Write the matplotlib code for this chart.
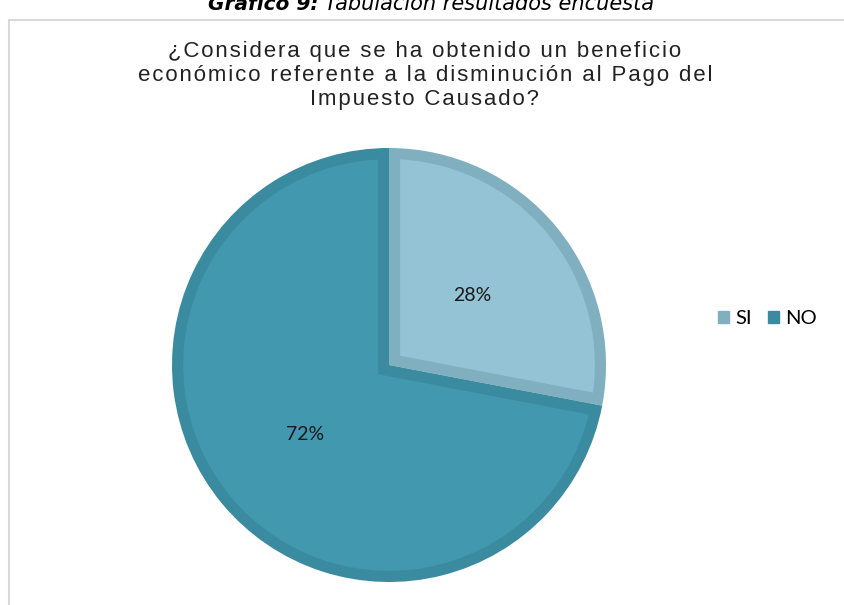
import matplotlib.pyplot as plt
from matplotlib.patches import Rectangle, Wedge

# encuesta: beneficio economico por disminucion del pago del impuesto causado
labels = ["SI", "NO"]
values = [28, 72]

fill_cols = ["#93C3D4", "#4198AF"]
edge_cols = ["#80AFC0", "#3A8B9F"]

title_lines = ["¿Considera que se ha obtenido un beneficio",
               "económico referente a la disminución al Pago del",
               "Impuesto Causado?"]

W, H = 844, 605
fig = plt.figure(figsize=(W / 100, H / 100), dpi=100)
ax = fig.add_axes([0, 0, 1, 1])

# marco del grafico
ax.add_patch(Rectangle((9, -10), W + 20, H - 20 + 10, fill=False,
                       edgecolor="#D9D9D9", linewidth=1.5))

# titulo de la figura (cortado arriba)
cap = fig.text(208 / W, 1 - 10 / H, "Gráfico 9:", fontsize=14.5,
               fontweight="bold", fontstyle="italic",
               family="Liberation Sans Narrow", va="baseline")
ax.annotate(" Tabulación resultados encuesta", xy=(1, 0), xycoords=cap,
            va="bottom", fontsize=15, fontstyle="italic",
            family="Liberation Sans Narrow")

# titulo con espaciado entre letras, una linea cada vez
for i, line in enumerate(title_lines):
    ax.text(425, H - (57 + 24 * i), "\u200a".join(line), ha="center",
            va="baseline", fontsize=16,
            family=["Liberation Sans", "DejaVu Sans"], color="#222222")

wedges, texts, autotexts = ax.pie(
    values, center=(389, H - 365), radius=217, startangle=90,
    counterclock=False, colors=fill_cols, autopct="%1.0f%%",
    pctdistance=0.5, frame=True,
    wedgeprops=dict(linewidth=1, edgecolor="white"),
    textprops=dict(fontsize=14, family="Lato", color="#1A1A1A"))
ax.set_xlim(0, W)
ax.set_ylim(0, H)
ax.set_aspect("equal")
ax.axis("off")

# borde interior mas oscuro en cada porcion
for w, ec in zip(wedges, edge_cols):
    inner = Wedge(w.center, w.r, w.theta1, w.theta2, facecolor="none",
                  edgecolor=ec, linewidth=16)
    ax.add_patch(inner)
    inner.set_clip_path(w)

handles = [Rectangle((0, 0), 1, 1, color=c) for c in edge_cols]
fig.legend(handles, labels, loc="center left",
           bbox_to_anchor=(718 / W, 1 - 319 / H), ncol=2, frameon=False,
           handlelength=0.55, handleheight=0.55, handletextpad=0.3,
           columnspacing=0.8, borderpad=0, borderaxespad=0,
           prop=dict(family="Lato", size=14.5))

fig.savefig("out.png", dpi=100)
